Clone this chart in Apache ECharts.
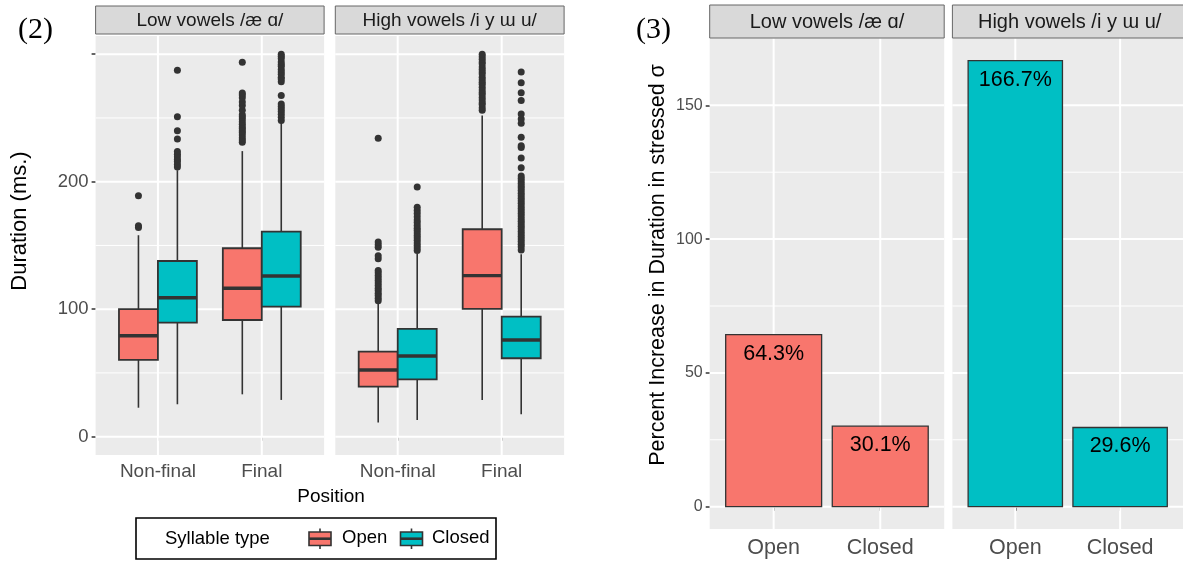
<!DOCTYPE html>
<html><head><meta charset="utf-8">
<script src="https://cdn.jsdelivr.net/npm/echarts@6/dist/echarts.min.js"></script>
<style>html,body{margin:0;padding:0;background:#fff}#c{width:1183px;height:561px}</style>
</head><body><div id="c"></div>
<script>
// ---------- data ----------
const positions = ['Non-final', 'Final'];
const vowelGroups = ['Low vowels /æ ɑ/', 'High vowels /i y ɯ u/'];
const syllableTypes = ['Open', 'Closed'];
// box stats per position: [lower whisker, Q1, median, Q3, upper whisker]
const lowOpenBox    = [[22.7, 60.2, 79.2, 100, 158], [33.2, 91.5, 116.4, 147.8, 224]];
const lowClosedBox  = [[25.4, 89.4, 109, 137.8, 209], [28.8, 102, 126, 160.8, 246]];
const highOpenBox   = [[11, 39.2, 52.3, 66.7, 104], [28.8, 100.2, 126.3, 162.7, 252]];
const highClosedBox = [[13.1, 45, 63.3, 84.5, 143.4], [17.5, 61.5, 75.8, 94.1, 143]];
// outliers per position
const lowOpenOutliers = [
  [164, 165.5, 189],
  [231, 232.7, 234.5, 236.6, 238.5, 240, 241.8, 243.2, 245, 247, 249.2, 251, 252.6, 256, 259.7, 262.5, 265.8, 268, 269.5, 293.7]
];
const lowClosedOutliers = [
  [211.6, 213.5, 215.8, 217.5, 219.5, 221.5, 223.7, 233.4, 240, 251, 287.4],
  [248, 250.6, 253, 255, 257, 259, 261, 267.6, 278.4, 280.5, 282, 284.2, 286, 288, 290.5, 292, 294, 296.6, 298.5, 300]
];
const highOpenOutliers = [
  [106.7, 108.5, 110.7, 112.5, 114.6, 116.5, 118.5, 120.5, 122.4, 124.5, 126.4, 128.5, 130.3, 139.5, 142, 148.6, 150.5, 152.6, 234],
  [256, 258, 260.5, 262, 264, 266, 268.5, 270, 272, 274, 276.5, 278, 280, 282, 284.5, 286, 288, 290, 292.5, 294, 296, 298, 300]
];
const highClosedOutliers = [
  [146, 148, 150, 152, 154, 156, 157.8, 159.8, 161.7, 163.5, 165.7, 168, 170, 172.5, 175, 177.5, 180, 195.8],
  [146.5, 149, 151, 153, 155, 157, 159, 161, 163, 165, 167, 169, 171, 173, 175, 177, 179, 181, 183, 185, 187, 189, 191, 193, 195, 196.6, 198.5, 200.6, 202.5, 204.5, 211, 218.5, 226.9, 228.2, 234.8, 245.8, 249.2, 253.2, 263.7, 269.8, 277.6, 286]
];
const durationTicks = [0, 100, 200, 300];
const durationMinor = [50, 150, 250];

const barCategories = ['Open', 'Closed'];
const lowIncrease = [64.3, 30.1];
const highIncrease = [166.7, 29.6];
const percentTicks = [0, 50, 100, 150];
const percentMinor = [25, 75, 125];

// ---------- styling ----------
const SANS = '"Liberation Sans", Arial, sans-serif';
const SERIF = '"Liberation Serif", "Times New Roman", serif';
const typeColors = ['#F8766D', '#00BFC4'];
const PANEL_BG = '#EBEBEB';
const DARK = '#333333';
const BOX_W = 0.375;

const chart = echarts.init(document.getElementById('c'));

const grids = [
  {left: 95.6, top: 36, width: 228.5, height: 419},
  {left: 335.3, top: 36, width: 228.8, height: 419},
  {left: 709.7, top: 38.3, width: 234.5, height: 490.7},
  {left: 952.4, top: 38.3, width: 234.5, height: 490.7}
].map(g => Object.assign(g, {show: true, backgroundColor: PANEL_BG, borderWidth: 0, containLabel: false}));

function xAxisFor(i, labels, fontSize, margin) {
  return {
    type: 'value', gridIndex: i, min: 0.4, max: 2.6,
    axisLine: {show: false}, splitLine: {show: false},
    axisTick: {show: true, customValues: [1, 2], length: 4, lineStyle: {color: DARK, width: 1.5}},
    axisLabel: {customValues: [1, 2], formatter: v => labels[Math.round(v) - 1], color: '#4D4D4D',
      fontSize: fontSize, fontFamily: SANS, margin: margin}
  };
}
function yAxisFor(i, min, max, ticks, showLabels, fontSize, fmt) {
  return {
    type: 'value', gridIndex: i, min: min, max: max,
    axisLine: {show: false}, splitLine: {show: false},
    axisTick: {show: showLabels, customValues: ticks, length: 4, lineStyle: {color: DARK, width: 1.5}},
    axisLabel: {show: showLabels, customValues: ticks, formatter: fmt, color: '#4D4D4D', fontSize: fontSize, fontFamily: SANS, margin: 7}
  };
}

const xAxes = [
  xAxisFor(0, positions, 19, 7), xAxisFor(1, positions, 19, 7),
  xAxisFor(2, barCategories, 21.5, 8), xAxisFor(3, barCategories, 21.5, 8)
];
const yAxes = [
  yAxisFor(0, -14.4, 314.3, durationTicks, true, 18.5, v => v === 300 ? '' : String(v)),
  yAxisFor(1, -14.4, 314.3, durationTicks, false, 18.5, v => String(v)),
  yAxisFor(2, -8.335, 175.035, percentTicks, true, 16, v => String(v)),
  yAxisFor(3, -8.335, 175.035, percentTicks, false, 16, v => String(v))
];

function gridlineSeries(i, major, minor) {
  const data = [];
  major.forEach(v => data.push([v, 0, 1]));
  minor.forEach(v => data.push([v, 0, 0]));
  [1, 2].forEach(v => data.push([v, 1, 1]));
  return {
    type: 'custom', xAxisIndex: i, yAxisIndex: i, z: 1, silent: true, data: data,
    renderItem: function (params, api) {
      const cs = params.coordSys;
      const v = api.value(0), vertical = api.value(1) === 1, isMajor = api.value(2) === 1;
      let shape;
      if (vertical) {
        const x = api.coord([v, 0])[0];
        shape = {x1: x, y1: cs.y, x2: x, y2: cs.y + cs.height};
      } else {
        const y = api.coord([1, v])[1];
        shape = {x1: cs.x, y1: y, x2: cs.x + cs.width, y2: y};
      }
      return {type: 'line', shape: shape, style: {stroke: '#FFFFFF', lineWidth: isMajor ? 2 : 1}};
    }
  };
}

function boxSeries(i, openBox, closedBox) {
  const data = [];
  [openBox, closedBox].forEach((arr, t) => arr.forEach((s, p) => data.push([p + 1, t].concat(s))));
  return {
    type: 'custom', xAxisIndex: i, yAxisIndex: i, z: 3, data: data,
    encode: {x: 0, y: [2, 3, 4, 5, 6]},
    renderItem: function (params, api) {
      const pos = api.value(0), t = api.value(1);
      const xc = pos + (t - 0.5) * BOX_W;
      const lo = api.value(2), q1 = api.value(3), med = api.value(4), q3 = api.value(5), hi = api.value(6);
      const pLo = api.coord([xc, lo]), pHi = api.coord([xc, hi]);
      const pQ1 = api.coord([xc - BOX_W / 2, q1]), pQ3 = api.coord([xc + BOX_W / 2, q3]);
      const pMed = api.coord([xc, med]);
      const lineStyle = {stroke: DARK, lineWidth: 1.6};
      return {
        type: 'group', children: [
          {type: 'line', shape: {x1: pHi[0], y1: pHi[1], x2: pHi[0], y2: pQ3[1]}, style: lineStyle},
          {type: 'line', shape: {x1: pLo[0], y1: pQ1[1], x2: pLo[0], y2: pLo[1]}, style: lineStyle},
          {type: 'rect', shape: {x: pQ1[0], y: pQ3[1], width: pQ3[0] - pQ1[0], height: pQ1[1] - pQ3[1]},
            style: {fill: typeColors[t], stroke: DARK, lineWidth: 1.8}},
          {type: 'line', shape: {x1: pQ1[0], y1: pMed[1], x2: pQ3[0], y2: pMed[1]}, style: {stroke: DARK, lineWidth: 3.4}}
        ]
      };
    }
  };
}

function outlierSeries(i, openOut, closedOut) {
  const data = [];
  [openOut, closedOut].forEach((arr, t) => arr.forEach((list, p) => list.forEach(v => data.push([p + 1 + (t - 0.5) * BOX_W, v]))));
  return {
    type: 'scatter', xAxisIndex: i, yAxisIndex: i, z: 4, data: data,
    symbol: 'circle', symbolSize: 7, itemStyle: {color: DARK, opacity: 1}, silent: true
  };
}

function barSeries(i, values, color) {
  return {
    type: 'custom', xAxisIndex: i, yAxisIndex: i, z: 3,
    data: values.map((v, k) => [k + 1, v]),
    renderItem: function (params, api) {
      const pos = api.value(0), v = api.value(1);
      const p0 = api.coord([pos - 0.45, v]), p1 = api.coord([pos + 0.45, 0]);
      return {
        type: 'group', children: [
          {type: 'rect', shape: {x: p0[0], y: p0[1], width: p1[0] - p0[0], height: p1[1] - p0[1]},
            style: {fill: color, stroke: DARK, lineWidth: 1.3}},
          {type: 'text', x: (p0[0] + p1[0]) / 2, y: p0[1] + 19,
            style: {text: v.toFixed(1) + '%', fill: '#000', font: '21.5px ' + SANS, align: 'center', verticalAlign: 'middle'}}
        ]
      };
    }
  };
}

const series = [
  gridlineSeries(0, durationTicks, durationMinor),
  gridlineSeries(1, durationTicks, durationMinor),
  gridlineSeries(2, percentTicks, percentMinor),
  gridlineSeries(3, percentTicks, percentMinor),
  boxSeries(0, lowOpenBox, lowClosedBox),
  boxSeries(1, highOpenBox, highClosedBox),
  outlierSeries(0, lowOpenOutliers, lowClosedOutliers),
  outlierSeries(1, highOpenOutliers, highClosedOutliers),
  barSeries(2, lowIncrease, typeColors[0]),
  barSeries(3, highIncrease, typeColors[1])
];

function strip(x, y, w, h, label, fs) {
  return [
    {type: 'rect', shape: {x: x, y: y, width: w, height: h}, style: {fill: '#D9D9D9', stroke: '#666', lineWidth: 1}, z: 10},
    {type: 'text', x: x + w / 2, y: y + h / 2 + 0.5, style: {text: label, font: fs + 'px ' + SANS, fill: '#1A1A1A', align: 'center', verticalAlign: 'middle'}, z: 11}
  ];
}

function legendKey(x, color) {
  const cx = x + 12;
  return [
    {type: 'line', shape: {x1: cx, y1: 528.5, x2: cx, y2: 549}, style: {stroke: DARK, lineWidth: 1.6}, z: 11},
    {type: 'rect', shape: {x: x + 1, y: 532, width: 22, height: 13.5}, style: {fill: color, stroke: DARK, lineWidth: 1.6}, z: 12},
    {type: 'line', shape: {x1: x + 1, y1: 538.7, x2: x + 23, y2: 538.7}, style: {stroke: DARK, lineWidth: 2.6}, z: 13}
  ];
}

const graphics = [].concat(
  strip(95.6, 6, 228.5, 28, vowelGroups[0], 19),
  strip(335.3, 6, 228.8, 28, vowelGroups[1], 19),
  strip(709.7, 5, 234.5, 33, vowelGroups[0], 20),
  strip(952.4, 5, 234.5, 33, vowelGroups[1], 20),
  [
    {type: 'text', x: 18, y: 30, style: {text: '(2)', font: '30px ' + SERIF, fill: '#000', align: 'left', verticalAlign: 'middle'}},
    {type: 'text', x: 636, y: 30, style: {text: '(3)', font: '30px ' + SERIF, fill: '#000', align: 'left', verticalAlign: 'middle'}},
    {type: 'text', x: 20, y: 221, rotation: Math.PI / 2, style: {text: 'Duration (ms.)', font: '22px ' + SANS, fill: '#000', align: 'center', verticalAlign: 'middle'}},
    {type: 'text', x: 658, y: 265, rotation: Math.PI / 2, style: {text: 'Percent Increase in Duration in stressed σ', font: '21.5px ' + SANS, fill: '#000', align: 'center', verticalAlign: 'middle'}},
    {type: 'text', x: 331, y: 497, style: {text: 'Position', font: '19px ' + SANS, fill: '#000', align: 'center', verticalAlign: 'middle'}},
    {type: 'rect', shape: {x: 136, y: 518, width: 360, height: 41}, style: {fill: '#fff', stroke: '#000', lineWidth: 1.6}, z: 10},
    {type: 'text', x: 165, y: 538.5, style: {text: 'Syllable type', font: '18.5px ' + SANS, fill: '#000', align: 'left', verticalAlign: 'middle'}, z: 11},
    {type: 'text', x: 342, y: 538, style: {text: syllableTypes[0], font: '18.5px ' + SANS, fill: '#000', align: 'left', verticalAlign: 'middle'}, z: 11},
    {type: 'text', x: 432, y: 538, style: {text: syllableTypes[1], font: '18.5px ' + SANS, fill: '#000', align: 'left', verticalAlign: 'middle'}, z: 11}
  ],
  legendKey(308, typeColors[0]),
  legendKey(399.5, typeColors[1])
);

chart.setOption({
  animation: false,
  backgroundColor: '#FFFFFF',
  grid: grids,
  xAxis: xAxes,
  yAxis: yAxes,
  series: series,
  graphic: graphics
});
</script>
</body></html>
